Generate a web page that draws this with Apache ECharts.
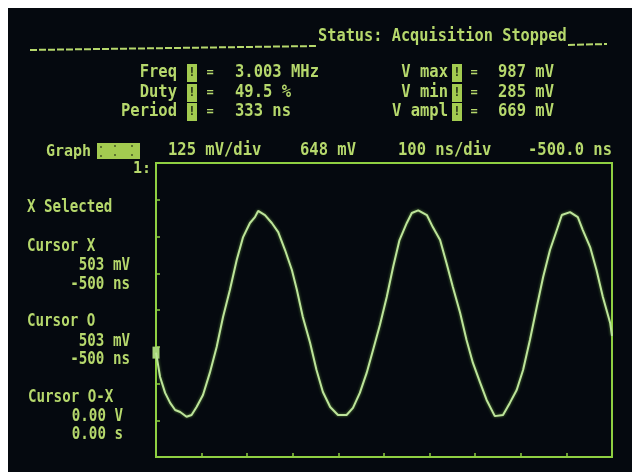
<!DOCTYPE html>
<html>
<head>
<meta charset="utf-8">
<script src="https://cdn.jsdelivr.net/npm/echarts@6/dist/echarts.min.js"></script>
<style>
html,body{margin:0;padding:0;background:#ffffff;}
#chart{width:632px;height:472px;}
</style>
</head>
<body>
<div id="chart"></div>
<script>
// ---- Data ----
// Waveform: time (ns) and voltage (mV)
const timeNs = [-500,-491,-480,-469,-458,-447,-433,-422,-411,-397,-382,-367,-353,-338,-323,-309,-294,-283,-276,-261,-246,-232,-217,-202,-191,-178,-162,-148,-134,-118,-101,-82,-68,-53,-38,-24,-9,6,20,34,50,61,75,94,107,123,137,151,167,181,195,211,225,243,261,276,291,305,320,335,349,364,379,390,408,425,436,452,466,480,496,500];
const voltMv = [503,420,366,332,308,301,285,291,318,359,434,522,624,716,818,896,944,964,985,971,944,913,852,784,716,624,536,444,369,318,291,291,315,366,434,512,597,692,794,886,944,978,987,971,930,886,808,726,638,546,468,400,342,287,291,332,376,444,546,658,760,852,920,971,981,964,920,862,784,692,604,560];

// Axis set-up: 125 mV/div, centre 648 mV, 8 divisions; 100 ns/div from -500 ns, 10 divisions
const yMinMv = 148, yMaxMv = 1148;
const yTicksMv = [273, 398, 523, 648, 773, 898, 1023];
const xMinNs = -500, xMaxNs = 500, xStepNs = 100;

// Cursor
const cursorTimeNs = -500, cursorMv = 503;

// Texts
const statusText = 'Status: Acquisition Stopped';
const measLeftLabels = ['Freq', 'Duty', 'Period'];
const measLeftValues = ['3.003 MHz', '49.5 %', '333 ns'];
const measRightLabels = ['V max', 'V min', 'V ampl'];
const measRightValues = ['987 mV', '285 mV', '669 mV'];
const scaleLabels = ['125 mV/div', '648 mV', '100 ns/div', '-500.0 ns'];
const sideLabels = ['X Selected', 'Cursor X', '503 mV', '-500 ns', 'Cursor O', '503 mV', '-500 ns', 'Cursor O-X', '0.00 V', '0.00 s'];

// ---- Styles ----
const BG = '#05090f';
const TXT = '#b6d86c';
const BORDER = '#8fcf42';
const TRACE = '#bde49a';
const BOX = '#a3cb50';
const MONO = '"DejaVu Sans Mono", "Liberation Mono", monospace';

function txt(s, x, y, size, align, sy, color) {
  return {
    type: 'text', x: x, y: y, scaleY: sy || 1, z: 20,
    style: {
      text: s, fill: color || TXT,
      font: 'bold ' + size + 'px ' + MONO,
      textAlign: align || 'left', textVerticalAlign: 'middle'
    }
  };
}
function rect(x, y, w, h, fill) {
  return { type: 'rect', z: 15, shape: { x: x, y: y, width: w, height: h }, style: { fill: fill } };
}

const g = [];
// dark screen
g.push({ type: 'rect', z: -10, silent: true, shape: { x: 8, y: 8, width: 624, height: 464 }, style: { fill: BG } });
// status line
g.push({ type: 'polyline', z: 15, shape: { points: [[30, 50], [316, 46]] }, style: { stroke: TXT, lineWidth: 2, lineDash: [7, 2], fill: null } });
g.push({ type: 'polyline', z: 15, shape: { points: [[568, 45], [607, 44]] }, style: { stroke: TXT, lineWidth: 2, lineDash: [7, 2], fill: null } });
g.push(txt(statusText, 318, 37, 15.3, 'left', 1.1));

// measurements
const rowsY = [73, 93, 112];
for (let i = 0; i < 3; i++) {
  const y = rowsY[i];
  g.push(txt(measLeftLabels[i], 177, y, 15.5, 'right', 1.08));
  g.push(rect(187, y - 9, 10, 18, BOX));
  g.push(txt('!', 192, y, 13, 'center', 1, '#2c3a1a'));
  g.push(txt('=', 210, y, 12, 'center', 1));
  g.push(txt(measLeftValues[i], 235, y, 15.5, 'left', 1.08));

  g.push(txt(measRightLabels[i], 448, y, 15.5, 'right', 1.08));
  g.push(rect(452, y - 9, 10, 18, BOX));
  g.push(txt('!', 457, y, 13, 'center', 1, '#2c3a1a'));
  g.push(txt('=', 474, y, 12, 'center', 1));
  g.push(txt(measRightValues[i], 498, y, 15.5, 'left', 1.08));
}

// scale row
g.push(txt('Graph', 46, 152, 15, 'left', 1.1));
g.push(rect(97, 143, 43, 16, BOX));
[[101, 147], [115, 146], [132, 146], [101, 156], [115, 155], [132, 155]].forEach(function (p) {
  g.push({ type: 'circle', z: 16, shape: { cx: p[0], cy: p[1], r: 0.9 }, style: { fill: '#3a4a20' } });
});
const scaleX = [168, 300, 398, 528];
for (let i = 0; i < 4; i++) g.push(txt(scaleLabels[i], scaleX[i], 151, 15.5, 'left', 1.1));
g.push(txt('1:', 133, 169, 15, 'left', 1.1));

// side column
const sideY = [208, 247, 266, 285, 322, 342, 360, 398, 417, 435];
const sideX = [27, 27, 130, 130, 27, 130, 130, 28, 123, 123];
const sideA = ['left', 'left', 'right', 'right', 'left', 'right', 'right', 'left', 'right', 'right'];
for (let i = 0; i < sideLabels.length; i++) g.push(txt(sideLabels[i], sideX[i], sideY[i], 14.2, sideA[i], 1.2));

const chart = echarts.init(document.getElementById('chart'), null, { renderer: 'canvas' });
chart.setOption({
  animation: false,
  backgroundColor: '#ffffff',
  grid: { left: 156, top: 163, width: 456, height: 294, show: true, borderColor: BORDER, borderWidth: 2, backgroundColor: 'transparent' },
  xAxis: {
    type: 'value', min: xMinNs, max: xMaxNs, interval: xStepNs,
    axisLine: { show: true, onZero: false, lineStyle: { color: BORDER, width: 2 } },
    axisTick: { show: true, inside: true, length: 4, lineStyle: { color: BORDER, width: 1.5 } },
    axisLabel: { show: false }, splitLine: { show: false }
  },
  yAxis: {
    type: 'value', min: yMinMv, max: yMaxMv,
    axisLine: { show: true, onZero: false, lineStyle: { color: BORDER, width: 2 } },
    axisTick: { show: true, inside: true, length: 4, customValues: yTicksMv, lineStyle: { color: BORDER, width: 1.5 } },
    axisLabel: { show: false, customValues: yTicksMv }, splitLine: { show: false }
  },
  graphic: { elements: g },
  series: [{
    type: 'line',
    data: timeNs.map(function (t, i) { return [t, voltMv[i]]; }),
    showSymbol: false,
    clip: false,
    lineStyle: { color: TRACE, width: 2, shadowColor: 'rgba(150,220,90,0.6)', shadowBlur: 3 },
    markPoint: {
      symbol: 'rect', symbolSize: [7, 12], silent: true,
      itemStyle: { color: '#a6d47a' }, label: { show: false },
      data: [{ coord: [cursorTimeNs, cursorMv] }]
    },
    z: 5
  }]
});
</script>
</body>
</html>
